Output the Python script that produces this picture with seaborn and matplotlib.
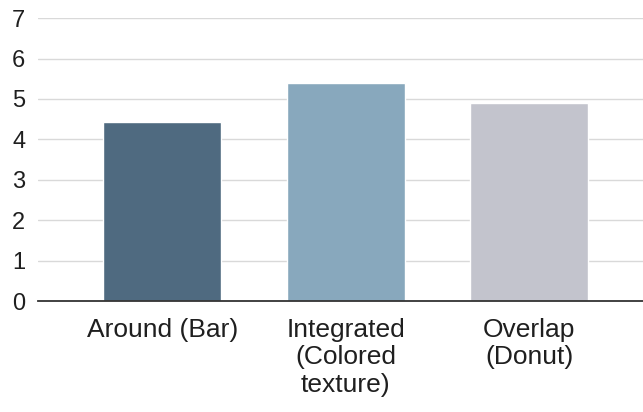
import pandas as pd
import matplotlib.pyplot as plt
import seaborn as sns

# Kategoriler ve değerler
categories = ["Around (Bar)", "Integrated\n(Colored\ntexture)", "Overlap\n(Donut)"]
values = [4.43, 5.40, 4.91]
bar_colors = ["#4f6a80", "#88a8bd", "#c3c4cd"]
y_ticks = [0, 1, 2, 3, 4, 5, 6, 7]

df = pd.DataFrame({"Category": categories, "Value": values})

sns.set_theme(style="white")
plt.rcParams["font.family"] = ["Liberation Sans", "DejaVu Sans"]

fig = plt.figure(figsize=(6.43, 4.12), dpi=100)
ax = fig.add_axes([0.059, 0.269, 0.941, 0.687])

sns.barplot(data=df, x="Category", y="Value", hue="Category",
            palette=bar_colors, legend=False, width=0.645, ax=ax,
            saturation=1, zorder=3)

ax.set_ylim(0, 7)
ax.set_xlim(-0.678, 2.62)
ax.set_yticks(y_ticks)
ax.set_yticklabels([str(t) for t in y_ticks])
ax.yaxis.grid(True, color="#d9d9d9", linewidth=1, zorder=0)
ax.set_axisbelow(True)

for s in ["top", "right", "left"]:
    ax.spines[s].set_visible(False)
ax.spines["bottom"].set_color("#333333")
ax.spines["bottom"].set_linewidth(1.3)
ax.spines["bottom"].set_zorder(4)

ax.tick_params(axis="y", length=0, pad=9, labelsize=17, labelcolor="#1f1f1f")
ax.tick_params(axis="x", length=0, pad=12, labelsize=19, labelcolor="#1f1f1f")
for lbl in ax.get_xticklabels():
    lbl.set_linespacing(1.18)

ax.set_xlabel("")
ax.set_ylabel("")

plt.savefig("out.png", dpi=100)
